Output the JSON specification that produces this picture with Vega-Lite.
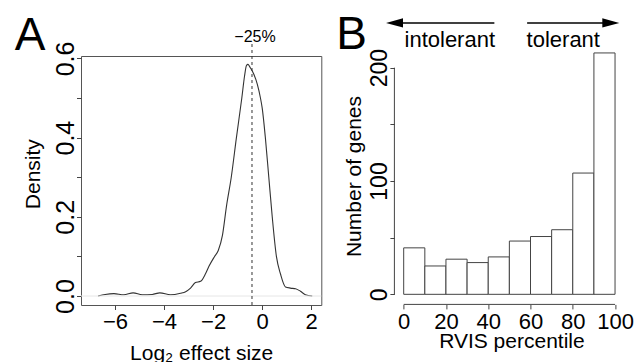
{
  "$schema": "https://vega.github.io/schema/vega-lite/v6.json",
  "padding": {"left": 14, "top": 11, "right": 0, "bottom": 0},
  "background": "white",
  "spacing": 72.4,
  "bounds": "flush",
  "config": {
    "view": {"stroke": null},
    "font": "Liberation Sans",
    "axis": {
      "labelFont": "Liberation Sans",
      "titleFont": "Liberation Sans",
      "titleFontWeight": "normal",
      "labelColor": "black",
      "titleColor": "black",
      "tickColor": "#444",
      "grid": false,
      "domain": false,
      "labelFlush": false,
      "labelOverlap": false,
      "tickSize": 4.5,
      "tickWidth": 1
    }
  },
  "hconcat": [
    {
      "width": 240.3,
      "height": 249,
      "view": {"stroke": "#555", "strokeWidth": 1},
      "layer": [
        {
          "data": {"values": [
            {"x": -6.69, "y": 0.0}, {"x": -6.4, "y": 0.004}, {"x": -6.04, "y": 0.006}, {"x": -5.64, "y": 0.003},
            {"x": -5.26, "y": 0.008}, {"x": -4.89, "y": 0.003}, {"x": -4.48, "y": 0.004}, {"x": -4.17, "y": 0.008},
            {"x": -3.74, "y": 0.003}, {"x": -3.33, "y": 0.007}, {"x": -3.12, "y": 0.011}, {"x": -2.92, "y": 0.02},
            {"x": -2.72, "y": 0.034}, {"x": -2.51, "y": 0.037}, {"x": -2.31, "y": 0.056}, {"x": -2.17, "y": 0.075},
            {"x": -1.94, "y": 0.1}, {"x": -1.79, "y": 0.115}, {"x": -1.62, "y": 0.153}, {"x": -1.45, "y": 0.229},
            {"x": -1.26, "y": 0.3}, {"x": -1.05, "y": 0.4}, {"x": -0.83, "y": 0.5}, {"x": -0.72, "y": 0.555},
            {"x": -0.64, "y": 0.582}, {"x": -0.58, "y": 0.585}, {"x": -0.5, "y": 0.578}, {"x": -0.34, "y": 0.56},
            {"x": -0.2, "y": 0.535}, {"x": -0.07, "y": 0.5}, {"x": 0.0, "y": 0.475}, {"x": 0.13, "y": 0.4},
            {"x": 0.27, "y": 0.3}, {"x": 0.41, "y": 0.2}, {"x": 0.58, "y": 0.1}, {"x": 0.75, "y": 0.055},
            {"x": 0.95, "y": 0.023}, {"x": 1.15, "y": 0.02}, {"x": 1.36, "y": 0.0185}, {"x": 1.56, "y": 0.012},
            {"x": 1.76, "y": 0.0034}, {"x": 2.04, "y": 0.0}
          ]},
          "mark": {"type": "line", "color": "#333", "strokeWidth": 1.1, "interpolate": "monotone"},
          "encoding": {
            "x": {
              "field": "x", "type": "quantitative",
              "scale": {"domain": [-7.385, 2.41], "nice": false, "zero": false},
              "axis": {
                "values": [-6, -4, -2, 0, 2], "format": "d",
                "labelFontSize": 22, "labelBaseline": "top", "labelPadding": 2,
                "title": "Log₂ effect size", "titleFontSize": 21,
                "titleY": 54.7, "titleBaseline": "alphabetic"
              }
            },
            "y": {
              "field": "y", "type": "quantitative",
              "scale": {"domain": [-0.0227, 0.6061], "nice": false, "zero": false},
              "axis": {
                "values": [0, 0.1, 0.2, 0.3, 0.4, 0.5, 0.6],
                "labelExpr": "round(datum.value*10)%2==0 ? format(datum.value,'.1f') : ''",
                "labelAngle": 270, "labelAlign": "center", "labelBaseline": "alphabetic",
                "labelPadding": 3, "labelFontSize": 25,
                "title": "Density", "titleFontSize": 21, "titleAngle": 270,
                "titleX": -41.5, "titleY": 117.7, "titleAlign": "center", "titleBaseline": "alphabetic"
              }
            }
          }
        },
        {
          "data": {"values": [{}]},
          "mark": {"type": "rule", "color": "#e6e6e6", "strokeWidth": 1},
          "encoding": {
            "x": {"datum": -7.385, "type": "quantitative"},
            "x2": {"datum": 2.41},
            "y": {"datum": 0, "type": "quantitative"}
          }
        },
        {
          "data": {"values": [{}]},
          "mark": {"type": "rule", "color": "#333", "strokeWidth": 1, "strokeDash": [3, 3], "clip": false},
          "encoding": {
            "x": {"datum": -0.415, "type": "quantitative"},
            "y": {"datum": -0.0227, "type": "quantitative"},
            "y2": {"datum": 0.64}
          }
        },
        {
          "data": {"values": [{}]},
          "mark": {"type": "text", "fontSize": 16, "align": "center", "baseline": "alphabetic", "font": "Liberation Sans", "color": "black"},
          "encoding": {
            "x": {"datum": -0.29, "type": "quantitative"},
            "y": {"datum": 0.6414, "type": "quantitative"},
            "text": {"value": "−25%"}
          }
        },
        {
          "data": {"values": [{}]},
          "mark": {"type": "text", "fontSize": 46, "align": "left", "baseline": "alphabetic", "font": "Liberation Sans", "color": "black"},
          "encoding": {
            "x": {"datum": -10.09, "type": "quantitative"},
            "y": {"datum": 0.621, "type": "quantitative"},
            "text": {"value": "A"}
          }
        }
      ]
    },
    {
      "width": 229.1,
      "height": 248.4,
      "layer": [
        {
          "data": {"values": [
            {"bin_start": 0, "bin_end": 10, "genes": 41},
            {"bin_start": 10, "bin_end": 20, "genes": 25},
            {"bin_start": 20, "bin_end": 30, "genes": 31},
            {"bin_start": 30, "bin_end": 40, "genes": 28},
            {"bin_start": 40, "bin_end": 50, "genes": 33},
            {"bin_start": 50, "bin_end": 60, "genes": 47},
            {"bin_start": 60, "bin_end": 70, "genes": 51},
            {"bin_start": 70, "bin_end": 80, "genes": 57},
            {"bin_start": 80, "bin_end": 90, "genes": 107},
            {"bin_start": 90, "bin_end": 100, "genes": 213}
          ]},
          "mark": {"type": "rect", "fill": "white", "stroke": "#444", "strokeWidth": 1, "clip": false},
          "encoding": {
            "x": {
              "field": "bin_start", "type": "quantitative",
              "scale": {"domain": [-4.4, 104], "nice": false, "zero": false},
              "axis": {
                "values": [0, 20, 40, 60, 80, 100], "format": "d",
                "labelFontSize": 22, "labelBaseline": "top", "labelPadding": 3,
                "title": "RVIS percentile", "titleFontSize": 21,
                "titleX": 117, "titleY": 42.6, "titleBaseline": "alphabetic"
              }
            },
            "x2": {"field": "bin_end"},
            "y": {
              "field": "genes", "type": "quantitative",
              "scale": {"domain": [-8.9, 210.3], "nice": false, "zero": false},
              "axis": {
                "values": [0, 50, 100, 150, 200],
                "labelExpr": "datum.value % 100 == 0 ? datum.label : ''",
                "labelAngle": 270, "labelAlign": "center", "labelBaseline": "alphabetic",
                "labelPadding": 3, "labelFontSize": 23,
                "title": "Number of genes", "titleFontSize": 21, "titleAngle": 270,
                "titleX": -33.8, "titleY": 120, "titleAlign": "center", "titleBaseline": "alphabetic"
              }
            },
            "y2": {"datum": 0}
          }
        },
        {
          "data": {"values": [{}]},
          "mark": {"type": "rule", "color": "#444", "strokeWidth": 1},
          "encoding": {
            "x": {"datum": -4.4, "type": "quantitative"},
            "y": {"datum": 0, "type": "quantitative"},
            "y2": {"datum": 200}
          }
        },
        {
          "data": {"values": [{}]},
          "mark": {"type": "rule", "color": "#444", "strokeWidth": 1},
          "encoding": {
            "x": {"datum": 0, "type": "quantitative"},
            "x2": {"datum": 100},
            "y": {"datum": -8.9, "type": "quantitative"}
          }
        },
        {
          "data": {"values": [{}]},
          "mark": {"type": "rule", "color": "black", "strokeWidth": 1.5},
          "encoding": {
            "x": {"datum": 42.9, "type": "quantitative"},
            "x2": {"datum": -4.35},
            "y": {"datum": 239.5, "type": "quantitative"}
          }
        },
        {
          "data": {"values": [{}]},
          "mark": {"type": "rule", "color": "black", "strokeWidth": 1.5},
          "encoding": {
            "x": {"datum": 58.4, "type": "quantitative"},
            "x2": {"datum": 98.0},
            "y": {"datum": 239.5, "type": "quantitative"}
          }
        },
        {
          "data": {"values": [{}]},
          "mark": {"type": "point", "shape": "M -1 0 L 1 -0.55 L 1 0.55 Z", "size": 289, "filled": true, "color": "black", "opacity": 1},
          "encoding": {
            "x": {"datum": -4.35, "type": "quantitative"},
            "y": {"datum": 239.5, "type": "quantitative"}
          }
        },
        {
          "data": {"values": [{}]},
          "mark": {"type": "point", "shape": "M 1 0 L -1 -0.55 L -1 0.55 Z", "size": 289, "filled": true, "color": "black", "opacity": 1},
          "encoding": {
            "x": {"datum": 98.0, "type": "quantitative"},
            "y": {"datum": 239.5, "type": "quantitative"}
          }
        },
        {
          "data": {"values": [{"label": "intolerant", "pos": 21.8}, {"label": "tolerant", "pos": 75.5}]},
          "mark": {"type": "text", "fontSize": 22, "align": "center", "baseline": "alphabetic", "font": "Liberation Sans", "color": "black"},
          "encoding": {
            "x": {"field": "pos", "type": "quantitative"},
            "y": {"datum": 218.3, "type": "quantitative"},
            "text": {"field": "label"}
          }
        },
        {
          "data": {"values": [{}]},
          "mark": {"type": "text", "fontSize": 46, "align": "left", "baseline": "alphabetic", "font": "Liberation Sans", "color": "black"},
          "encoding": {
            "x": {"datum": -31.9, "type": "quantitative"},
            "y": {"datum": 216.5, "type": "quantitative"},
            "text": {"value": "B"}
          }
        }
      ]
    }
  ]
}
